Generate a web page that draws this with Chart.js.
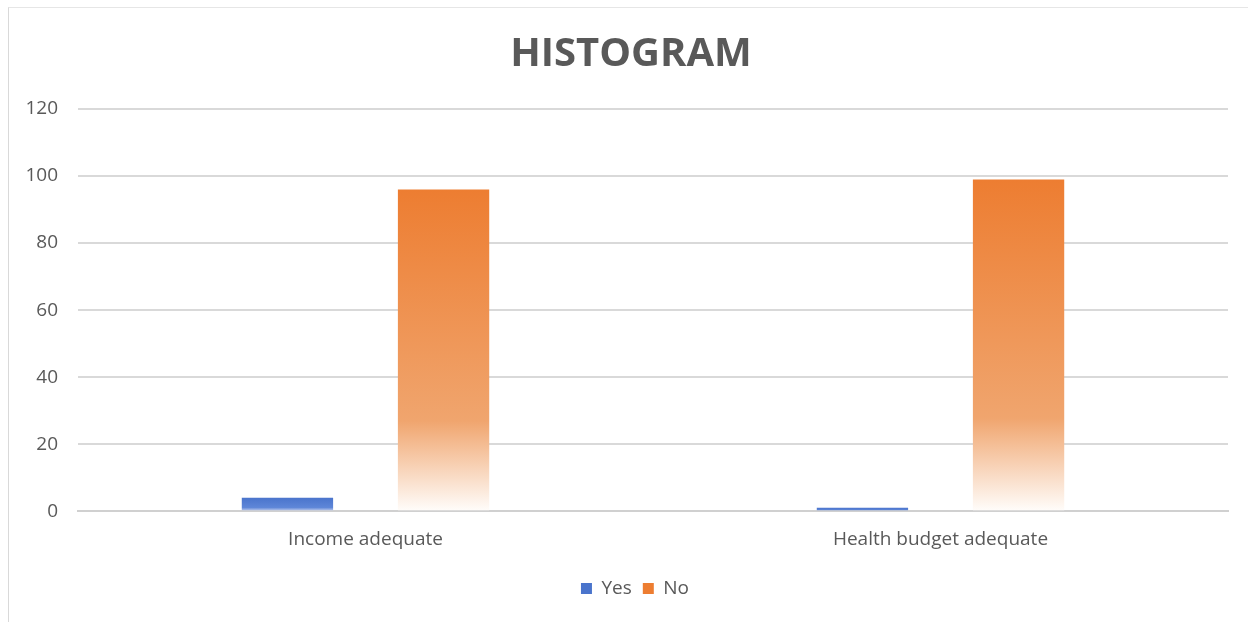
<!DOCTYPE html>
<html>
<head>
<meta charset="utf-8">
<script src="https://cdn.jsdelivr.net/npm/chart.js@4"></script>
<style>
  html, body { margin: 0; padding: 0; background: #fff; }
  #wrap { position: absolute; left: 0; top: 0; width: 1248px; height: 622px; }
  #frame { position: absolute; left: 8px; top: 7px; width: 1240px; height: 615px;
           border-left: 1px solid #d9d9d9; border-top: 1px solid #e6e6e6; box-sizing: border-box; }
  canvas { position: absolute; left: 0; top: 0; }
</style>
</head>
<body>
<div id="wrap">
  <div id="frame"></div>
  <canvas id="c" width="1248" height="622"></canvas>
</div>
<script>
const categories = ["Income adequate", "Health budget adequate"];
const yesValues = [4, 1];
const noValues = [96, 99];
const seriesNames = ["Yes", "No"];
const seriesColors = ["#4A74CC", "#ED7D31"];
const yTicks = [0, 20, 40, 60, 80, 100, 120];

function barGradient(solid, mid, light) {
  return function (ctx) {
    const chart = ctx.chart;
    if (!chart.chartArea || ctx.type !== 'data' || ctx.parsed == null) return solid;
    const y = chart.scales.y;
    const top = y.getPixelForValue(ctx.parsed.y);
    const base = y.getPixelForValue(0);
    if (!isFinite(top) || !isFinite(base) || base - top < 1) return solid;
    const g = chart.ctx.createLinearGradient(0, top, 0, base);
    g.addColorStop(0, solid);
    g.addColorStop(0.72, mid);
    g.addColorStop(1, light);
    return g;
  };
}

// shift title and legend horizontally to match the reference centring
const shiftPlugin = {
  id: 'shiftBlocks',
  afterLayout(chart) {
    if (chart.titleBlock) { chart.titleBlock.left += 13; chart.titleBlock.right += 13; }
    if (chart.legend) {
      chart.legend.left += 17; chart.legend.right += 17;
      if (chart.legend.legendHitBoxes) chart.legend.legendHitBoxes.forEach(h => { h.left += 17; });
    }
  }
};

new Chart(document.getElementById('c'), {
  type: 'bar',
  data: {
    labels: categories,
    datasets: [
      { label: seriesNames[0], data: yesValues,
        backgroundColor: barGradient(seriesColors[0], '#5E86D8', '#C9D3F0'),
        categoryPercentage: 0.543, barPercentage: 0.585 },
      { label: seriesNames[1], data: noValues,
        backgroundColor: barGradient(seriesColors[1], '#F0A56E', '#FFFDFB'),
        categoryPercentage: 0.543, barPercentage: 0.585 }
    ]
  },
  plugins: [shiftPlugin],
  options: {
    responsive: false,
    animation: false,
    devicePixelRatio: 1,
    layout: { padding: { left: 8, right: 20, top: 31, bottom: 14 } },
    plugins: {
      title: {
        display: true, text: 'HISTOGRAM', color: '#595959',
        font: { family: 'Open Sans', size: 40, weight: 'bold' },
        padding: { top: 0, bottom: 30 }
      },
      legend: {
        position: 'bottom',
        labels: {
          color: '#595959', boxWidth: 11, boxHeight: 11,
          font: { family: 'Open Sans', size: 19 }, padding: 11,
          generateLabels: (chart) => chart.data.datasets.map((ds, i) => ({
            text: ds.label, fillStyle: seriesColors[i], strokeStyle: seriesColors[i],
            lineWidth: 0, hidden: false, datasetIndex: i, fontColor: '#595959'
          }))
        }
      },
      tooltip: { enabled: false }
    },
    scales: {
      x: {
        grid: { display: false, drawTicks: false },
        border: { display: true, color: '#d0d0d0', width: 2 },
        ticks: { color: '#595959', font: { family: 'Open Sans', size: 19 }, padding: 17 }
      },
      y: {
        min: 0, max: 120,
        afterBuildTicks: (s) => { s.ticks = yTicks.map(v => ({ value: v })); },
        afterFit: (s) => { s.width = 70; },
        grid: { color: '#d9d9d9', lineWidth: 2, drawTicks: false },
        border: { display: false },
        ticks: { color: '#595959', font: { family: 'Open Sans', size: 19 }, padding: 20 }
      }
    }
  }
});
</script>
</body>
</html>
